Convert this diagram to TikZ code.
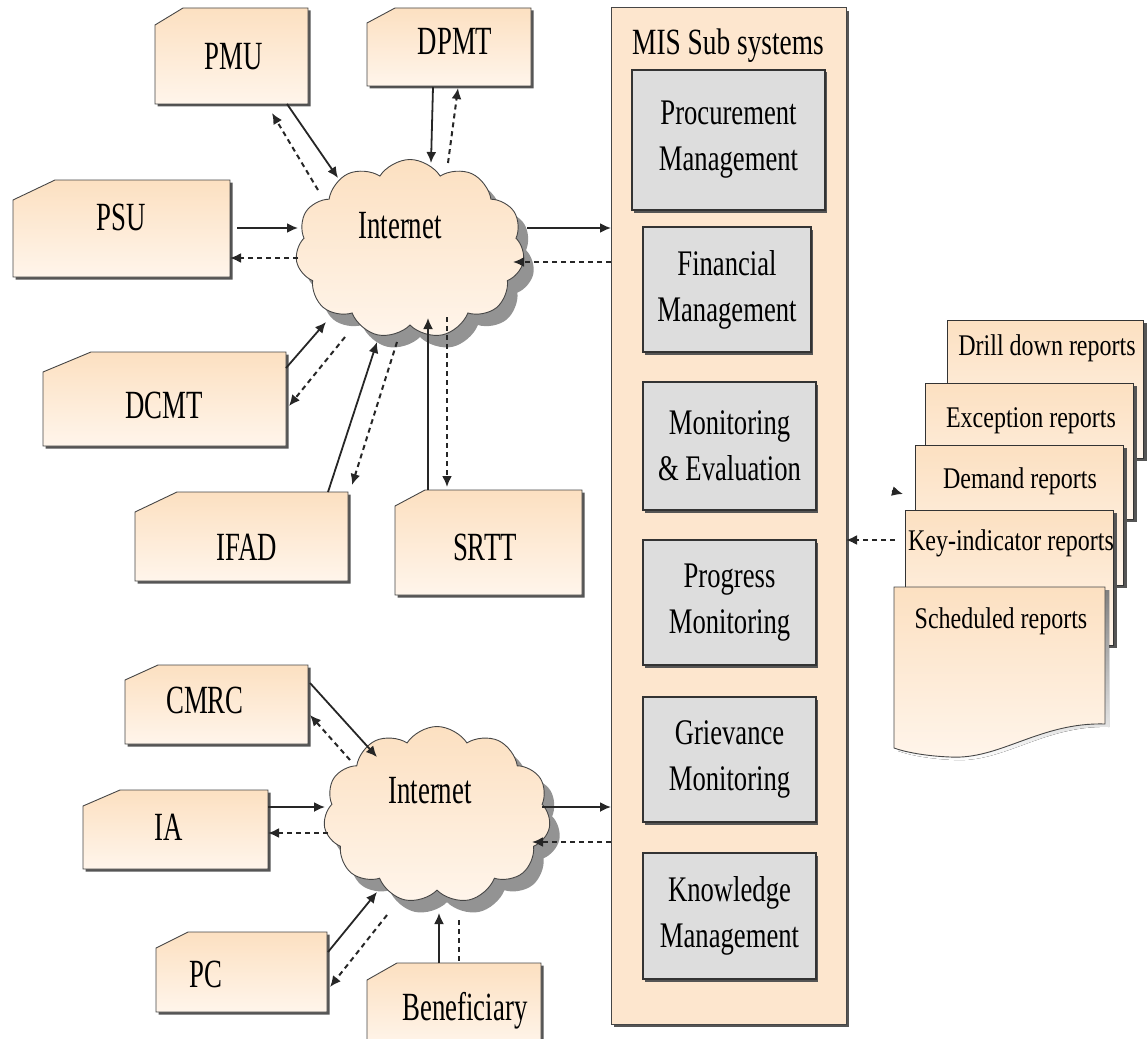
\documentclass[tikz,border=0pt]{standalone}
\usepackage{fontspec}
\setmainfont{Liberation Serif}
\newfontfamily\cardfont[FakeStretch=0.67]{Liberation Serif}
\newfontfamily\misfont[FakeStretch=0.74]{Liberation Serif}
\newfontfamily\repfont[FakeStretch=0.8]{Liberation Serif}
\usetikzlibrary{shapes.symbols,shadows,arrows.meta}
\pgfdeclarelayer{back}
\pgfsetlayers{back,main}

\definecolor{peachtop}{RGB}{252,224,193}
\definecolor{peachbot}{RGB}{255,245,235}
\definecolor{misfill}{RGB}{253,230,206}
\definecolor{boxgray}{RGB}{221,221,221}
\definecolor{edge}{RGB}{70,70,70}
\definecolor{shade}{RGB}{85,85,85}

\tikzset{
  cardnode/.style={rectangle, inner sep=0pt, outer sep=0pt},
  cardface/.style={draw=edge, line width=0.9pt, top color=peachtop, bottom color=peachbot},
  cardshadow/.style={fill=shade},
  cardlabel/.style={font=\cardfont\fontsize{40}{46}\selectfont, anchor=base, inner sep=0pt},
  netcloud/.style={cloud, cloud puffs=11, cloud puff arc=115, cloud ignores aspect,
    draw=edge, line width=0.9pt, top color=peachtop, bottom color=peachbot, inner sep=0pt,
    drop shadow={shadow xshift=10pt, shadow yshift=-12pt, fill=black!50, opacity=0.85}},
  miscol/.style={rectangle, draw=edge, line width=1pt, fill=misfill,
    drop shadow={shadow xshift=3pt, shadow yshift=-3pt, fill=shade, opacity=1}},
  mistitle/.style={font=\misfont\fontsize{37}{44}\selectfont, anchor=base, inner sep=0pt},
  subsys/.style={rectangle, draw=black!80, line width=1.2pt, fill=boxgray, align=center,
    font=\misfont\fontsize{36}{46}\selectfont, inner sep=0pt,
    drop shadow={shadow xshift=1.5pt, shadow yshift=-2.5pt, fill=shade, opacity=1}},
  repcard/.style={rectangle, draw=black!80, line width=0.9pt, top color=peachtop, bottom color=peachbot,
    drop shadow={shadow xshift=4pt, shadow yshift=-3pt, fill=shade, opacity=1}},
  replabel/.style={font=\repfont\fontsize{30}{34}\selectfont, anchor=base, inner sep=0pt},
  fwd/.style={line width=1.8pt, draw=black!85, -{Latex[length=11pt,width=10pt]}},
  ret/.style={line width=2pt, draw=black!85, dash pattern=on 5pt off 4pt, -{Latex[length=11pt,width=10pt]}},
  retline/.style={line width=2pt, draw=black!85, dash pattern=on 5pt off 4pt},
}

% card with a clipped top-left corner, drawn behind the node #1
\newcommand\cardbody[3]{%
  \begin{pgfonlayer}{back}
    \fill[cardshadow] ([shift={(2.5,2.5)}]#1.south west) -- ([shift={(2.5,#3+2.5)}]#1.north west)
      -- ([shift={(#2+2.5,2.5)}]#1.north west) -- ([shift={(2.5,2.5)}]#1.north east)
      -- ([shift={(2.5,2.5)}]#1.south east) -- cycle;
    \path[cardface] (#1.south west) -- ([shift={(0,#3)}]#1.north west)
      -- ([shift={(#2,0)}]#1.north west) -- (#1.north east) -- (#1.south east) -- cycle;
  \end{pgfonlayer}}

\begin{document}
\begin{tikzpicture}[x=1pt, y=-1pt]
\useasboundingbox (0,0) rectangle (1147,1038);

% MIS column and its subsystems
\node[miscol, minimum width=235, minimum height=1016] (mis) at (728.5,516) {};
\node[mistitle] (mistxt) at (728,55) {MIS Sub systems};
\node[subsys, minimum width=193, minimum height=140] (proc) at (728.5,140) {Procurement\\Management};
\node[subsys, minimum width=168, minimum height=125] (fin) at (727,289.5) {Financial\\Management};
\node[subsys, minimum width=173, minimum height=128] (me) at (729.5,446) {Monitoring\\\& Evaluation};
\node[subsys, minimum width=173, minimum height=125] (prog) at (729.5,602.5) {Progress\\Monitoring};
\node[subsys, minimum width=173, minimum height=125] (griev) at (729.5,759.5) {Grievance\\Monitoring};
\node[subsys, minimum width=173, minimum height=126] (know) at (729.5,916) {Knowledge\\Management};

% stack of reports
\node[repcard, minimum width=196, minimum height=138] (drill) at (1045,389) {};
\node[replabel] (drilltxt) at (1047,355) {Drill down reports};
\node[repcard, minimum width=208, minimum height=136] (exc) at (1029,451) {};
\node[replabel] (exctxt) at (1031,427) {Exception reports};
\node[repcard, minimum width=208, minimum height=140] (dem) at (1019,515) {};
\node[replabel] (demtxt) at (1020,488) {Demand reports};
\node[repcard, minimum width=208, minimum height=135] (key) at (1009,577.5) {};
\node[replabel] (keytxt) at (1011,550) {Key-indicator reports};
\begin{scope}[shift={(4,3)}]
  \fill[shade] (894,587) -- (1105,587) -- (1105,724)
    .. controls (1040,722) and (1000,760) .. (950,757)
    .. controls (925,756) and (905,752) .. (894,748) -- cycle;
\end{scope}
\path[cardface] (894,587) -- (1105,587) -- (1105,724)
    .. controls (1040,722) and (1000,760) .. (950,757)
    .. controls (925,756) and (905,752) .. (894,748) -- cycle;
\node[replabel] (schtxt) at (1001,628) {Scheduled reports};

% the two Internet clouds
\node[netcloud, minimum width=229, minimum height=179] (net1) at (410,249) {};
\node[cardlabel] (net1txt) at (400,238) {Internet};
\node[netcloud, minimum width=227, minimum height=177] (net2) at (437,815) {};
\node[cardlabel] (net2txt) at (430,803) {Internet};

% user cards
\node[cardnode, minimum width=153, minimum height=96] (pmu) at (231.5,56) {};
\node[cardlabel] (pmutxt) at (234,70) {PMU};
\cardbody{pmu}{28}{17}
\node[cardnode, minimum width=164, minimum height=78] (dpmt) at (449,47) {};
\node[cardlabel] (dpmttxt) at (455,55) {DPMT};
\cardbody{dpmt}{28}{15}
\node[cardnode, minimum width=217, minimum height=97] (psu) at (121.5,228.5) {};
\node[cardlabel] (psutxt) at (121,230) {PSU};
\cardbody{psu}{42}{20}
\node[cardnode, minimum width=243, minimum height=94] (dcmt) at (164.5,399) {};
\node[cardlabel] (dcmttxt) at (164,418) {DCMT};
\cardbody{dcmt}{48}{20}
\node[cardnode, minimum width=213, minimum height=89] (ifad) at (241.5,536.5) {};
\node[cardlabel] (ifadtxt) at (247,560) {IFAD};
\cardbody{ifad}{42}{20}
\node[cardnode, minimum width=187, minimum height=105] (srtt) at (488.5,542.5) {};
\node[cardlabel] (srtttxt) at (485,560) {SRTT};
\cardbody{srtt}{30}{16}
\node[cardnode, minimum width=183, minimum height=79] (cmrc) at (216.5,704.5) {};
\node[cardlabel] (cmrctxt) at (205,713) {CMRC};
\cardbody{cmrc}{33}{15}
\node[cardnode, minimum width=185, minimum height=79] (ia) at (175.5,829.5) {};
\node[cardlabel] (iatxt) at (169,840) {IA};
\cardbody{ia}{37}{16}
\node[cardnode, minimum width=171, minimum height=80] (pc) at (241.5,972) {};
\node[cardlabel] (pctxt) at (206,987) {PC};
\cardbody{pc}{32}{16}
\node[cardnode, minimum width=174, minimum height=85] (ben) at (454,1005.5) {};
\node[cardlabel] (bentxt) at (465,1020) {Beneficiary};
\cardbody{ben}{30}{17}

% links to the upper cloud
\draw[fwd] ([shift={(55.5,48)}]pmu.center) -- ([shift={(-72,-71)}]net1.center);
\draw[ret] ([shift={(-92,-59)}]net1.center) -- ([shift={(40.5,57)}]pmu.center);
\draw[fwd] ([shift={(-16,40)}]dpmt.center) -- ([shift={(21,-86)}]net1.center);
\draw[ret] ([shift={(38,-86)}]net1.center) -- ([shift={(9,41)}]dpmt.center);
\draw[fwd] ([shift={(115.5,-0.5)}]psu.center) -- ([shift={(-112,-21)}]net1.center);
\draw[ret] ([shift={(-112,9)}]net1.center) -- ([shift={(108.5,29.5)}]psu.center);
\draw[fwd] ([shift={(117,-21)}]net1.center) -- ([shift={(-117.5,-288)}]mis.center);
\draw[ret] ([shift={(-117.5,-254)}]mis.center) -- ([shift={(103,13)}]net1.center);
\draw[fwd] ([shift={(121.5,-31)}]dcmt.center) -- ([shift={(-84,73)}]net1.center);
\draw[ret] ([shift={(-65,88)}]net1.center) -- ([shift={(124.5,7)}]dcmt.center);
\draw[fwd] ([shift={(86.5,-44.5)}]ifad.center) -- ([shift={(-33,93)}]net1.center);
\draw[ret] ([shift={(-13,93)}]net1.center) -- ([shift={(110.5,-51.5)}]ifad.center);
\draw[fwd] ([shift={(-60.5,-52.5)}]srtt.center) -- ([shift={(18,69)}]net1.center);
\draw[ret] ([shift={(37,68)}]net1.center) -- ([shift={(-41.5,-55.5)}]srtt.center);

% links to the lower cloud
\draw[fwd] ([shift={(93.5,-21.5)}]cmrc.center) -- ([shift={(-60,-58)}]net2.center);
\draw[ret] ([shift={(-87,-55)}]net2.center) -- ([shift={(93.5,10.5)}]cmrc.center);
\draw[fwd] ([shift={(92.5,-22.5)}]ia.center) -- ([shift={(-112,-8)}]net2.center);
\draw[ret] ([shift={(-109,18)}]net2.center) -- ([shift={(92.5,3.5)}]ia.center);
\draw[fwd] ([shift={(105,-8)}]net2.center) -- ([shift={(-117.5,291)}]mis.center);
\draw[ret] ([shift={(-117.5,326)}]mis.center) -- ([shift={(95,27)}]net2.center);
\draw[fwd] ([shift={(86.5,-20)}]pc.center) -- ([shift={(-60,77)}]net2.center);
\draw[ret] ([shift={(-50,100)}]net2.center) -- ([shift={(88.5,15)}]pc.center);
\draw[fwd] ([shift={(-15,-42.5)}]ben.center) -- ([shift={(2,98)}]net2.center);
\draw[retline] ([shift={(22,105)}]net2.center) -- ([shift={(5,-42.5)}]ben.center);

% reports back to the MIS
\draw[ret] ([shift={(-114,-37.5)}]key.center) -- ([shift={(117.5,24)}]mis.center);
\coordinate (stub) at (892,491);
\draw[fwd] (stub) -- ([shift={(-116,-21)}]dem.center);
\end{tikzpicture}
\end{document}
